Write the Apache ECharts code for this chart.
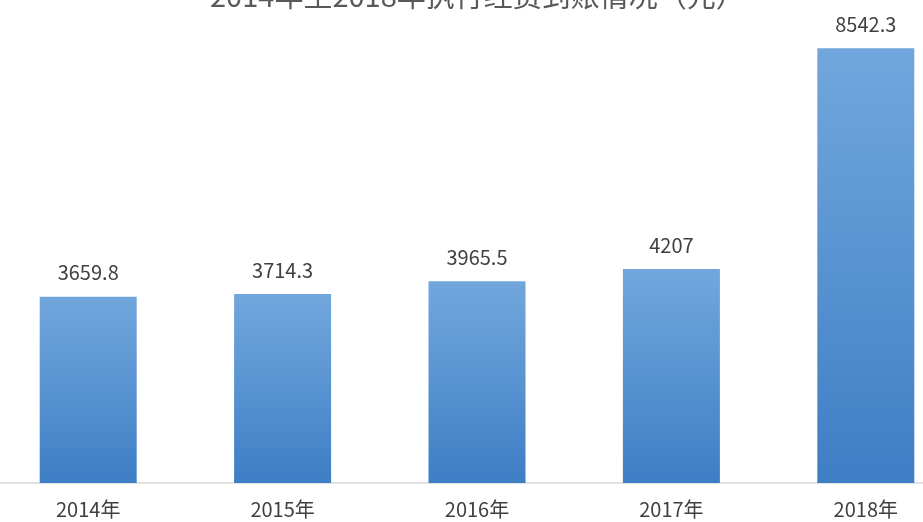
<!DOCTYPE html>
<html>
<head>
<meta charset="utf-8">
<script src="https://cdn.jsdelivr.net/npm/echarts@6/dist/echarts.min.js"></script>
<style>
  html, body { margin: 0; padding: 0; background: #fff; }
  #chart { width: 923px; height: 522px; }
</style>
</head>
<body>
<div id="chart"></div>
<script>
// Annual enforcement funds, 2014–2018
const categories = ['2014年', '2015年', '2016年', '2017年', '2018年'];
const values = [3659.8, 3714.3, 3965.5, 4207, 8542.3];
const titleText = '2014年至2018年执行经费到账情况（元）';

const font = "'Liberation Sans Narrow', 'Noto Sans CJK SC', sans-serif";

const chart = echarts.init(document.getElementById('chart'), null, { renderer: 'canvas' });
chart.setOption({
  animation: false,
  backgroundColor: '#ffffff',
  title: {
    text: titleText,
    left: 205,
    top: -24,
    textStyle: { fontFamily: font, fontSize: 29, fontWeight: 'normal', color: '#595959' }
  },
  grid: {
    left: -9,
    width: 972,
    top: 25,
    height: 458,
    containLabel: false,
    outerBoundsMode: 'none'
  },
  xAxis: {
    type: 'category',
    data: categories,
    axisLine: { lineStyle: { color: '#d9d9d9', width: 1.5 } },
    axisTick: { show: false },
    axisLabel: { fontFamily: font, fontSize: 20, color: '#404040', margin: 16 }
  },
  yAxis: {
    type: 'value',
    min: 0,
    max: 9000,
    show: false,
    splitLine: { show: false }
  },
  series: [{
    type: 'bar',
    data: values,
    barWidth: 97,
    itemStyle: {
      color: new echarts.graphic.LinearGradient(0, 0, 0, 1, [
        { offset: 0, color: '#72a7dd' },
        { offset: 1, color: '#3e7ec5' }
      ])
    },
    label: {
      show: true,
      position: 'top',
      distance: 14,
      fontFamily: font,
      fontSize: 20,
      color: '#404040'
    }
  }]
});
</script>
</body>
</html>
